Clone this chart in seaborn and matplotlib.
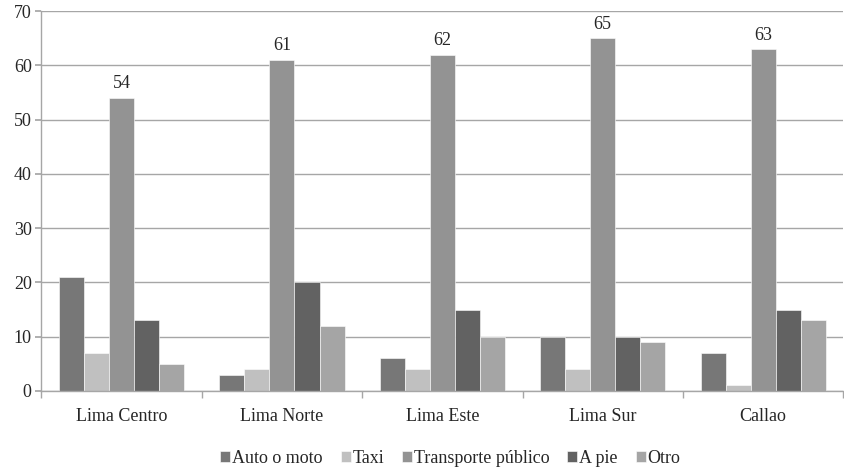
import numpy as np
import pandas as pd
import matplotlib
matplotlib.use("Agg")
import matplotlib.pyplot as plt
import seaborn as sns

regions = ["Lima Centro", "Lima Norte", "Lima Este", "Lima Sur", "Callao"]
auto_moto = [21, 3, 6, 10, 7]
taxi = [7, 4, 4, 4, 1]
transporte = [54, 61, 62, 65, 63]
a_pie = [13, 20, 15, 10, 15]
otro = [5, 12, 10, 9, 13]

modes = ["Auto o moto", "Taxi", "Transporte público", "A pie", "Otro"]
colors = ["#777777", "#c0c0c0", "#939393", "#626262", "#a5a5a5"]

df = pd.DataFrame({
    "region": regions * 5,
    "modo": np.repeat(modes, len(regions)),
    "valor": auto_moto + taxi + transporte + a_pie + otro,
})

sns.set_theme(style="white")
plt.rcParams["font.family"] = ["Liberation Serif", "DejaVu Serif"]

fig, ax = plt.subplots(figsize=(8.45, 4.67), dpi=100)
fig.subplots_adjust(left=0.049, right=0.998, top=0.976, bottom=0.163)

sns.barplot(data=df, x="region", y="valor", hue="modo", hue_order=modes,
            palette=colors, width=0.78, gap=0, saturation=1,
            edgecolor="white", linewidth=0.4, ax=ax)

# value labels only on the public transport bars
tp = ax.containers[2]
ax.bar_label(tp, labels=[str(v) for v in transporte], padding=4, fontsize=13)

ax.set_ylim(0, 70)
ax.set_yticks(range(0, 71, 10))
ax.set_xlim(-0.5, len(regions) - 0.5)
ax.yaxis.grid(True, color="#a6a6a6", linewidth=1)
ax.set_axisbelow(True)
ax.set_xlabel("")
ax.set_ylabel("")

for s in ["top", "right"]:
    ax.spines[s].set_visible(False)
for s in ["left", "bottom"]:
    ax.spines[s].set_color("#a6a6a6")
    ax.spines[s].set_linewidth(1)

ax.tick_params(axis="y", labelsize=13, left=True, length=4, color="#a6a6a6", pad=3)
ax.tick_params(axis="x", labelsize=13, bottom=False, pad=6)
# tick marks at category boundaries
ax.set_xticks(np.arange(-0.5, len(regions), 1), minor=True)
ax.tick_params(axis="x", which="minor", bottom=True, length=5, color="#a6a6a6")

handles, labels = ax.get_legend_handles_labels()
ax.legend(handles, labels, loc="upper center", bbox_to_anchor=(0.51, -0.112),
          ncol=5, frameon=False, fontsize=13, handlelength=0.55, handleheight=0.55,
          handletextpad=0.1, columnspacing=1.0)

fig.savefig("out.png", dpi=100)
